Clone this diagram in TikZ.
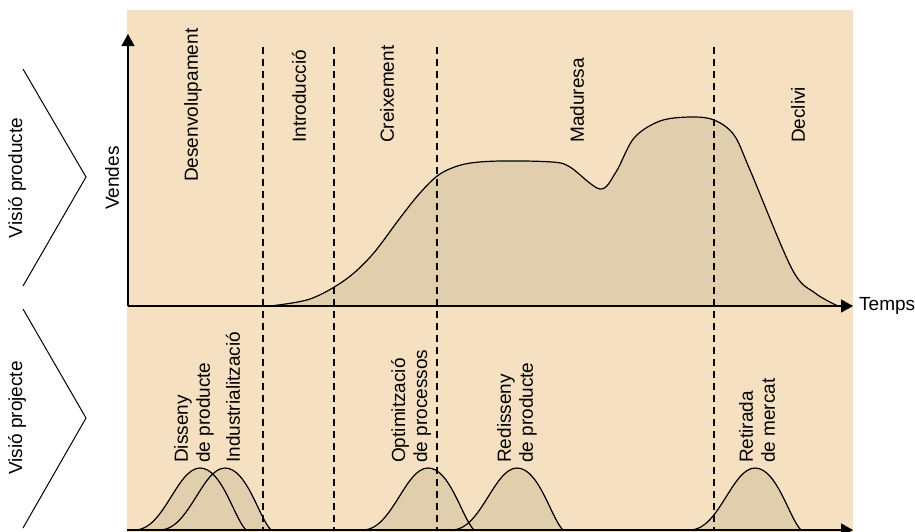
\documentclass[tikz,border=0pt]{standalone}
\usepackage{fontspec}
\setmainfont{Liberation Sans}
\usetikzlibrary{arrows.meta, positioning}
\definecolor{fons}{RGB}{245,225,193}
\definecolor{corba}{RGB}{224,206,172}

\tikzset{
  eix/.style={line width=1.4pt, -{Triangle[length=12pt, width=13pt]}},
  fase/.style={rotate=90, anchor=west, inner sep=0pt},
  etiq/.style={rotate=90, anchor=west, inner sep=0pt, align=left},
  separa/.style={line width=1.2pt, dash pattern=on 7pt off 5pt},
  perfil/.style={line width=1.2pt},
  clau/.style={line width=1pt},
}

\begin{document}
\begin{tikzpicture}[x=1pt, y=-1pt, font=\fontsize{19}{22}\selectfont]
			\useasboundingbox (0,0) rectangle (915,531);
			\fill[fons] (127,10) rectangle (853,535);
			% corba de vendes
			\draw[perfil, fill=corba] plot[smooth, tension=0.55] coordinates {
				(270,306) (310,299) (345,280) (372,255) (400,218) (420,193) (440,174)
				(465,164) (500,161) (552,162) (570,167) (600,189) (616,172) (634,138)
				(660,121) (690,117) (714,120) (734,135) (750,170) (792,269) (815,293)
				(838,306)};
			% campanes de projecte
			\foreach \p in {200,225,428,517,755}{
				\fill[corba] ({\p-65},530) .. controls ({\p-36},530) and ({\p-23},468) .. (\p,468)
					.. controls ({\p+22},468) and ({\p+34},518) .. ({\p+46},530) -- cycle;
			}
			\foreach \p in {200,225,428,517,755}{
				\draw[perfil] ({\p-65},530) .. controls ({\p-36},530) and ({\p-23},468) .. (\p,468)
					.. controls ({\p+22},468) and ({\p+34},518) .. ({\p+46},530);
			}
			% limits de fase
			\foreach \x in {263,334,437,714}{
				\draw[separa] (\x,47) -- (\x,531);
			}
			% eixos
			\coordinate (orig) at (128,306);
			\coordinate (ytop) at (128,34);
			\coordinate (xend) at (853,306);
			\coordinate (borig) at (127,530);
			\coordinate (bend) at (853,530);
			\draw[eix] (orig) -- (ytop);
			\draw[eix] (orig) -- (xend);
			\draw[eix] (borig) -- (bend);
			\node[anchor=west, inner sep=0pt] (temps) at ([xshift=6pt]xend) {Temps};
			\node[fase] (vendes) at (112,210) {Vendes};
			% fases
			\node[fase] (desenv) at (193,182) {Desenvolupament};
			\node[fase] (intro) at (299,143) {Introducció};
			\node[fase] (creix) at (387,143) {Creixement};
			\node[fase] (madur) at (577,143) {Maduresa};
			\node[fase] (decliv) at (798,143) {Declivi};
			% projectes
			\node[etiq] (disseny) at (194,463) {Disseny\\de producte};
			\node[etiq] (indus) at (233,463) {Industrialització};
			\node[etiq] (optim) at (411,463) {Optimització\\de processos};
			\node[etiq] (redis) at (517,463) {Redisseny\\de producte};
			\node[etiq] (retir) at (757,463) {Retirada\\de mercat};
			% visions
			\draw[clau] (23,69) -- (86,177) -- (23,286);
			\draw[clau] (23,309) -- (86,418) -- (23,528);
			\node[rotate=90, inner sep=0pt] (vprod) at (17,178) {Visió producte};
			\node[rotate=90, inner sep=0pt] (vproj) at (17,418) {Visió projecte};
		\end{tikzpicture}
\end{document}
